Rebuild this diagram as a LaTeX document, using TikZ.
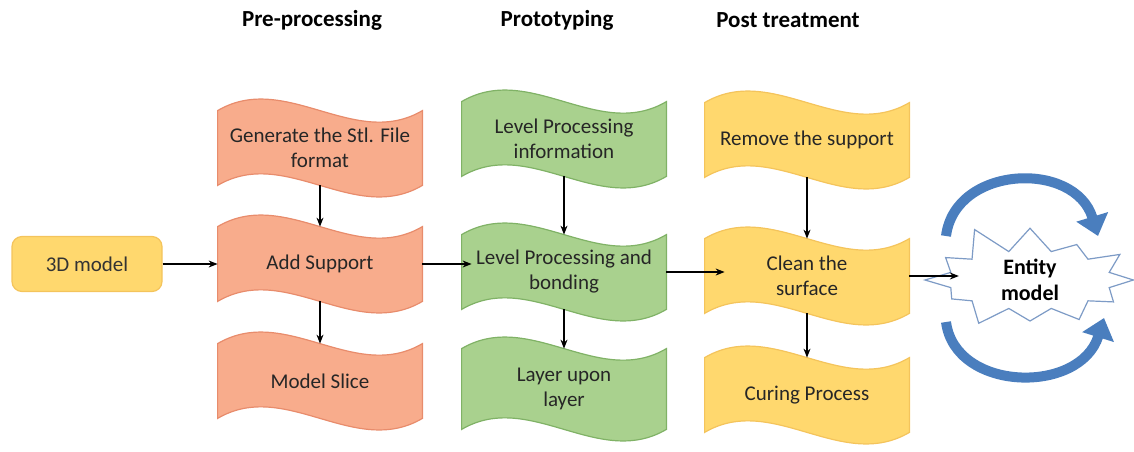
\documentclass[tikz,border=0pt]{standalone}
\usepackage{fontspec}
\setmainfont{Carlito}
\usetikzlibrary{arrows.meta, shapes.symbols, backgrounds}
\definecolor{preOrange}{RGB}{248,172,140}
\definecolor{preBorder}{RGB}{232,140,108}
\definecolor{protoGreen}{RGB}{169,209,142}
\definecolor{protoBorder}{RGB}{128,178,102}
\definecolor{postYellow}{RGB}{255,216,110}
\definecolor{postBorder}{RGB}{244,196,92}
\definecolor{loopBlue}{RGB}{74,126,190}
\definecolor{starEdge}{RGB}{125,155,198}

\begin{document}
\begin{tikzpicture} [x = 0.5pt, y = -0.5pt,
	step box/.style = {minimum width = 102pt, minimum height = 37pt, inner sep = 0pt,
		align = center, text = black!85, font = \fontsize{10.5}{12.5}\selectfont},
	wave/.style = {line width = 0.6pt, insert path = {(#1.north west)
		.. controls +(34pt, 20pt) and +(-34pt, -20pt) .. (#1.north east) -- (#1.south east)
		.. controls +(-34pt, -20pt) and +(34pt, 20pt) .. (#1.south west) -- cycle}},
	pre/.style = {fill = preOrange, draw = preBorder},
	proto/.style = {fill = protoGreen, draw = protoBorder},
	post/.style = {fill = postYellow, draw = postBorder},
	title/.style = {font = \fontsize{11.5}{14}\selectfont\bfseries},
	arrow/.style = {-{Stealth[length = 4.5pt, width = 3.5pt]}, line width = 0.6pt},
	loop/.style = {draw = loopBlue, line width = 5pt, -{Triangle[length = 10pt, width = 16pt]}}]

	\useasboundingbox (0, 0) rectangle (1134, 451);

% Column titles.

	\node [title] (preTitle) at (312, 20) {Pre-processing};
	\node [title] (protoTitle) at (557, 20) {Prototyping};
	\node [title] (postTitle) at (788, 20) {Post treatment};

% Start box.

	\node [draw = postBorder, fill = postYellow, rounded corners = 5pt, line width = 0.6pt,
		minimum width = 75pt, minimum height = 27.5pt, text = black!80,
		font = \fontsize{10.5}{12.5}\selectfont] (model) at (87, 264) {3D model};

% Pre-processing.

	\node [step box] (generate) at (320, 148) {Generate the Stl. File\\format};
	\node [step box] (support) at (320, 264) {Add Support};
	\node [step box] (slice) at (320, 381) {Model Slice};

% Prototyping.

	\node [step box] (info) at (564, 139) {Level Processing\\information};
	\node [step box] (bonding) at (564, 272) {Level Processing and\\bonding};
	\node [step box, minimum height = 40pt] (layer) at (564, 389) {Layer upon\\layer};

% Post treatment.

	\node [step box] (remove) at (807, 140) {Remove the support};
	\node [step box] (clean) at (807, 276) {Clean the\\surface};
	\node [step box] (curing) at (807, 395) {Curing Process};

% Wave shapes behind the text.

	\begin{scope}[on background layer]
		\foreach \n in {generate, support, slice}
			\path [pre, wave = \n];
		\foreach \n in {info, bonding, layer}
			\path [proto, wave = \n];
		\foreach \n in {remove, clean, curing}
			\path [post, wave = \n];
	\end{scope}

% Result.

	\node [starburst, draw = starEdge, fill = white, line width = 0.6pt, inner sep = 0pt,
		minimum width = 112pt, minimum height = 40pt, starburst points = 12,
		starburst point height = 15pt, random starburst = 11, align = center,
		font = \fontsize{11}{13}\selectfont\bfseries] (entity) at (1030, 280) {Entity\\model};

% Connectors.

	\draw [arrow] (model) -- (support);
	\draw [arrow] (generate) -- (support);
	\draw [arrow] (support) -- (slice);
	\draw [arrow] (support.east) -- ([xshift = 5pt]support.east -| bonding.west);
	\draw [arrow] (info) -- (bonding);
	\draw [arrow] (bonding) -- (layer);
	\draw [arrow] (bonding.east) -- ([xshift = 10pt]bonding.east -| clean.west);
	\draw [arrow] (remove) -- (clean);
	\draw [arrow] (clean) -- (curing);
	\draw [arrow] (clean.east) -- ([xshift = 18pt]clean.east -| entity.west);

% Loop arrows round the result.

	\draw [loop] (946, 236) .. controls (955, 165) and (1075, 160) .. (1098, 236);
	\draw [loop] (946, 322) .. controls (955, 392) and (1080, 395) .. (1104, 318);

\end{tikzpicture}
\end{document}
